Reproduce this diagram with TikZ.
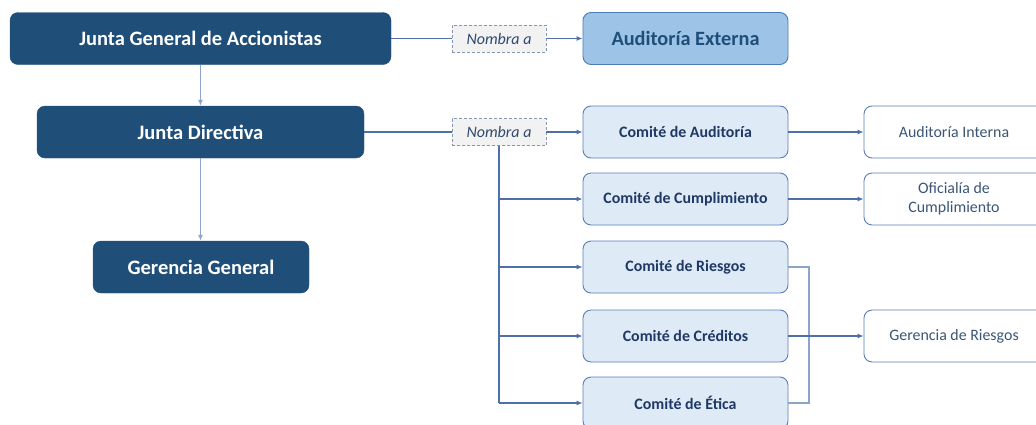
\documentclass[tikz,border=0pt]{standalone}
\usepackage{fontspec}
\setmainfont{Carlito}
\usetikzlibrary{arrows.meta,positioning}
\definecolor{darkbox}{HTML}{1F4E79}
\definecolor{aefill}{HTML}{9DC3E6}
\definecolor{aedraw}{HTML}{4A7DB5}
\definecolor{comfill}{HTML}{DEEBF7}
\definecolor{comdraw}{HTML}{5A7DB8}
\definecolor{comtext}{HTML}{1F3864}
\definecolor{whdraw}{HTML}{5A7DB8}
\definecolor{whtext}{HTML}{3B5577}
\definecolor{nomfill}{HTML}{F2F2F2}
\definecolor{nomdraw}{HTML}{8497B0}
\definecolor{nomtext}{HTML}{2F4A6E}
\definecolor{conn}{HTML}{4F6FA8}
\definecolor{connlight}{HTML}{8EA4C8}
\tikzset{
  x=1pt,y=-1pt,
  base/.style={rectangle,rounded corners=8pt,inner sep=2pt,align=center},
  darknode/.style={base,fill=darkbox,draw=darkbox,text=white,font=\fontsize{20.5}{24}\selectfont\bfseries,minimum height=52pt},
  aenode/.style={base,fill=aefill,draw=aedraw,line width=0.9pt,text=darkbox,font=\fontsize{20.3}{24}\selectfont\bfseries,minimum width=205pt,minimum height=52pt},
  comnode/.style={base,fill=comfill,draw=comdraw,line width=0.9pt,text=comtext,font=\fontsize{15.9}{19}\selectfont\bfseries,minimum width=205pt,minimum height=52pt},
  whnode/.style={base,fill=white,draw=whdraw,line width=0.9pt,text=whtext,font=\fontsize{15.9}{18.5}\selectfont,minimum width=180pt,minimum height=52pt},
  nomnode/.style={rectangle,fill=nomfill,draw=nomdraw,densely dashed,line width=0.7pt,text=nomtext,font=\fontsize{16}{19}\selectfont\itshape,minimum width=94pt,minimum height=27pt,inner sep=1pt},
  link/.style={draw=conn,line width=1.1pt},
  arr/.style={link,-{Latex[length=6pt,width=5pt]}},
  lightarr/.style={draw=connlight,line width=1.3pt,-{Latex[length=6pt,width=5pt]}},
  lightlink/.style={draw=connlight,line width=1.3pt},
}
\begin{document}
\begin{tikzpicture}
\useasboundingbox (0,0) rectangle (1036,424);
\begin{scope}
\clip (0,0) rectangle (1036,424);
% nodes
\node[darknode,minimum width=381pt] (jga) at (200.5,38.5) {Junta General de Accionistas};
\node[nomnode] (nom1) at (499,38.5) {Nombra a};
\node[aenode] (ae) at (685.5,38.5) {Auditoría Externa};
\node[darknode,minimum width=327pt] (jd) at (200.5,132) {Junta Directiva};
\node[nomnode] (nom2) at (499,132) {Nombra a};
\node[comnode] (ca) at (685.5,132) {Comité de Auditoría};
\node[whnode] (ai) at (954,132) {Auditoría Interna};
\node[comnode] (cc) at (685.5,199) {Comité de Cumplimiento};
\node[whnode] (oc) at (954,199) {Oficialía de\\Cumplimiento};
\node[darknode,minimum width=216pt] (gg) at (201,267) {Gerencia General};
\node[comnode] (cr) at (685.5,267) {Comité de Riesgos};
\node[comnode] (ccr) at (685.5,336) {Comité de Créditos};
\node[whnode] (gr) at (954,336) {Gerencia de Riesgos};
\node[comnode] (ce) at (685.5,403) {Comité de Ética};
% coordinates
\coordinate (trunkend) at (nom2.south |- ce.west);
\coordinate (brtop) at (809,267);
\coordinate (brbot) at (809,403);
% connectors
\draw[link] (jga.east) -- (nom1.west);
\draw[arr] (nom1.east) -- (ae.west);
\draw[lightarr] (jga.south) -- (jd.north);
\draw[lightarr] (jd.south) -- (jd.south |- gg.north);
\draw[link] (jd.east) -- (nom2.west);
\draw[arr] (nom2.east) -- (ca.west);
\draw[link] (nom2.south) -- (trunkend);
\draw[arr] (nom2.south |- cc.west) -- (cc.west);
\draw[arr] (nom2.south |- cr.west) -- (cr.west);
\draw[arr] (nom2.south |- ccr.west) -- (ccr.west);
\draw[arr] (trunkend) -- (ce.west);
\draw[arr] (ca.east) -- (ai.west);
\draw[arr] (cc.east) -- (oc.west);
\draw[lightlink] (cr.east) -- (brtop) -- (brbot) -- (ce.east);
\draw[arr] (ccr.east) -- (gr.west);
\end{scope}
\end{tikzpicture}
\end{document}
